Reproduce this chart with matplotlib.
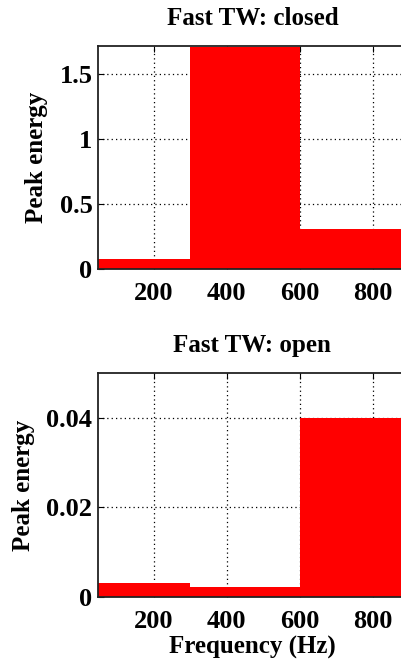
import matplotlib
matplotlib.use("Agg")
import matplotlib.pyplot as plt

# frequency bands (Hz) and peak energy per band
band_edges = [0, 300, 600, 900]
closed_energy = [0.08, 1.71, 0.31]
open_energy = [0.0032, 0.0023, 0.040]

panels = [
    ("Fast TW: closed", closed_energy, 1.715, [0, 0.5, 1, 1.5], ["0", "0.5", "1", "1.5"]),
    ("Fast TW: open", open_energy, 0.05, [0, 0.02, 0.04], ["0", "0.02", "0.04"]),
]
xticks = [200, 400, 600, 800]

plt.rcParams["font.family"] = ["Liberation Serif", "DejaVu Serif"]
plt.rcParams["font.weight"] = "bold"

W, H = 401, 661
fig = plt.figure(figsize=(W / 100, H / 100), dpi=100)

x0, x1 = 47, 893
px_per_hz = 73 / 200
ax_left = 98
ax_w = (x1 - x0) * px_per_hz
# axes top/bottom in pixels from the top of the figure
boxes = [(46, 269), (373, 597)]

for (title, energy, ytop, yt, ytl), (top, bot) in zip(panels, boxes):
    ax = fig.add_axes([ax_left / W, 1 - bot / H, ax_w / W, (bot - top) / H])
    widths = [b - a for a, b in zip(band_edges[:-1], band_edges[1:])]
    ax.bar(band_edges[:-1], energy, width=widths, align="edge",
           color="#ff0000", edgecolor="none", zorder=2)
    ax.set_xlim(x0, x1)
    ax.set_ylim(0, ytop)
    ax.set_xticks(xticks)
    ax.set_xticklabels([str(t) for t in xticks], fontsize=19, fontweight="bold")
    ax.set_yticks(yt)
    ax.set_yticklabels(ytl, fontsize=19, fontweight="bold")
    ax.tick_params(direction="in", length=4, width=0.8, top=True, right=True)
    ax.tick_params(axis="x", pad=9.5)
    ax.tick_params(axis="y", pad=4)
    ax.grid(True, linestyle=(0, (1, 2.5)), color="black", linewidth=0.9, zorder=0)
    ax.set_axisbelow(True)
    for s in ax.spines.values():
        s.set_linewidth(1.3)
        s.set_color("#222222")

    ax.set_title(title, fontsize=18, fontweight="bold", pad=15)
    ax.set_ylabel("Peak energy", fontsize=18, fontweight="bold", labelpad=8)

    if title.endswith("open"):
        ax.set_xlabel("Frequency (Hz)", fontsize=18, fontweight="bold", labelpad=2)

fig.savefig("out.png", dpi=100)
